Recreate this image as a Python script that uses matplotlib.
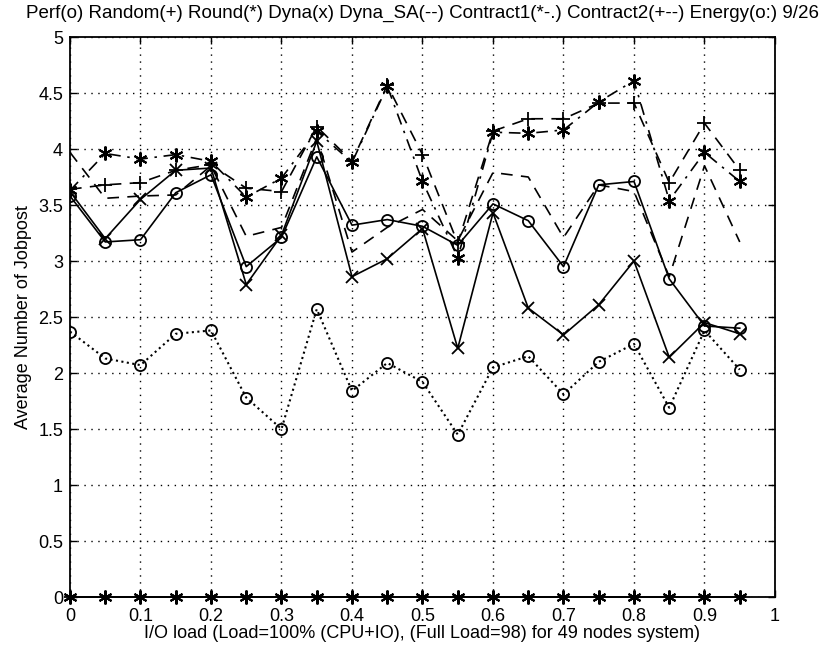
import numpy as np
import matplotlib.pyplot as plt

OUTPUT_FILE = "out.png"

io_load = [0.0, 0.05, 0.1, 0.15, 0.2, 0.25, 0.3, 0.35, 0.4, 0.45,
           0.5, 0.55, 0.6, 0.65, 0.7, 0.75, 0.8, 0.85, 0.9, 0.95]

perf = [3.58, 3.17, 3.19, 3.61, 3.77, 2.95, 3.21, 3.93, 3.32, 3.37,
        3.31, 3.14, 3.51, 3.36, 2.95, 3.68, 3.71, 2.84, 2.42, 2.40]
random_ = [0.0] * 20
round_ = [0.0] * 20
dyna = [3.62, 3.20, 3.55, 3.81, 3.83, 2.79, 3.23, 4.07, 2.86, 3.02,
        3.29, 2.22, 3.43, 2.58, 2.34, 2.61, 3.00, 2.14, 2.45, 2.35]
dyna_sa = [3.97, 3.56, 3.58, 3.59, 3.85, 3.22, 3.30, 4.10, 3.08, 3.30,
           3.46, 3.18, 3.79, 3.75, 3.21, 3.68, 3.62, 2.86, 3.85, 3.17]
contract1 = [3.63, 3.96, 3.91, 3.95, 3.89, 3.57, 3.74, 4.16, 3.88, 4.56,
             3.71, 3.03, 4.15, 4.14, 4.17, 4.42, 4.61, 3.54, 3.97, 3.71]
contract2 = [3.64, 3.68, 3.70, 3.81, 3.86, 3.65, 3.62, 4.20, 3.89, 4.57,
             3.95, 3.16, 4.16, 4.27, 4.27, 4.41, 4.41, 3.70, 4.23, 3.81]
energy = [2.37, 2.13, 2.07, 2.35, 2.38, 1.78, 1.50, 2.57, 1.84, 2.09,
          1.92, 1.45, 2.05, 2.15, 1.81, 2.10, 2.26, 1.69, 2.38, 2.03]

title = ("Perf(o) Random(+) Round(*) Dyna(x) Dyna_SA(--) Contract1(*-.) "
         "Contract2(+--) Energy(o:) 9/26")

plt.rcParams['font.family'] = ['Liberation Sans', 'DejaVu Sans']

fig = plt.figure(figsize=(8.37, 6.51), dpi=100)
ax = fig.add_axes([70 / 837, 1 - 597 / 651, 705 / 837, 560 / 651])

lw = 1.2
ms = 8
k = 'black'
star = (6, 2, 0)  # matlab-style asterisk
ax.plot(io_load, perf, '-o', color=k, lw=lw, ms=ms, mfc='none', mew=1.3)
ax.plot(io_load, random_, '-+', color=k, lw=lw, ms=ms, mew=1.3, clip_on=False)
ax.plot(io_load, round_, '-', marker=star, color=k, lw=lw, ms=ms + 2,
        mew=1.5, clip_on=False)
ax.plot(io_load, dyna, '-x', color=k, lw=lw, ms=ms, mew=1.3)
ax.plot(io_load, dyna_sa, '--', color=k, lw=lw, dashes=(7, 5))
ax.plot(io_load, contract1, '-.', marker=star, color=k, lw=lw, ms=ms + 2,
        mew=1.5, dashes=(7, 4, 1.5, 4))
ax.plot(io_load, contract2, '--+', color=k, lw=lw, ms=ms + 2, mew=1.3,
        dashes=(7, 5))
ax.plot(io_load, energy, ':o', color=k, lw=lw + 0.3, ms=ms, mfc='none',
        mew=1.3)

ax.set_xlim(0, 1)
ax.set_ylim(0, 5)
ax.set_xticks(np.arange(0, 1.01, 0.1))
ax.set_xticklabels(['0', '0.1', '0.2', '0.3', '0.4', '0.5', '0.6', '0.7',
                    '0.8', '0.9', '1'])
ax.set_yticks(np.arange(0, 5.01, 0.5))
ax.set_yticklabels(['0', '0.5', '1', '1.5', '2', '2.5', '3', '3.5', '4',
                    '4.5', '5'])
ax.grid(True, linestyle=(0, (1, 4)), color=k, lw=1.0)
ax.tick_params(direction='in', length=5, labelsize=13, width=1.0,
               top=True, right=True)
ax.tick_params(axis='x', pad=8)
ax.tick_params(axis='y', pad=5)
for s in ax.spines.values():
    s.set_linewidth(1.3)

ax.set_title(title, fontsize=13.5, pad=14)
ax.set_xlabel("I/O load (Load=100% (CPU+IO), (Full Load=98) for 49 nodes system)",
              fontsize=13, labelpad=0)
ax.set_ylabel("Average Number of Jobpost", fontsize=13, labelpad=4)

fig.savefig(OUTPUT_FILE, dpi=100)
plt.close(fig)
